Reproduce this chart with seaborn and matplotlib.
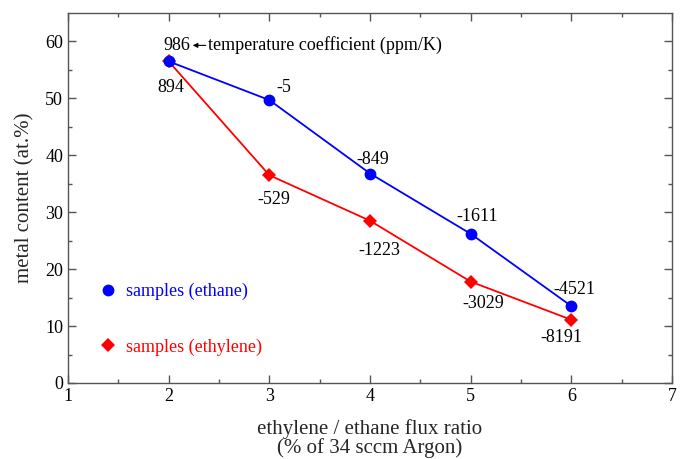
import matplotlib
matplotlib.use("Agg")
import matplotlib.pyplot as plt
from matplotlib.lines import Line2D
from matplotlib.transforms import offset_copy
import seaborn as sns
import pandas as pd

# data
flux_ratio = [2, 3, 4, 5, 6]
ethane_metal = [56.5, 49.7, 36.8, 26.2, 13.5]
ethylene_metal = [56.5, 36.5, 28.5, 17.8, 11.1]
ethane_tcr = ["986", "-5", "-849", "-1611", "-4521"]
ethylene_tcr = ["894", "-529", "-1223", "-3029", "-8191"]

# label offsets in pixels (x, y) from each point
ethane_offsets = [(8, 16), (14, 13), (3, 14), (6, 17), (3, 17)]
ethylene_offsets = [(2, -26), (4, -24), (9, -30), (13, -22), (-10, -18)]

sns.set_style("ticks")
plt.rcParams['font.family'] = ['Liberation Serif', 'DejaVu Serif']

df_ethane = pd.DataFrame({'x': flux_ratio, 'y': ethane_metal})
df_ethylene = pd.DataFrame({'x': flux_ratio, 'y': ethylene_metal})

fig = plt.figure(figsize=(6.83, 4.59), dpi=100)
ax = fig.add_axes([0.0996, 0.1656, 0.8844, 0.8061])

sns.lineplot(data=df_ethylene, x='x', y='y', color='#ff0000', marker='D',
             markersize=7, markeredgewidth=0, linewidth=1.3, ax=ax)
sns.lineplot(data=df_ethane, x='x', y='y', color='#0000ff', marker='o',
             markersize=8.5, markeredgewidth=0, linewidth=1.3, ax=ax)

for x, y, t, (dx, dy) in zip(flux_ratio, ethane_metal, ethane_tcr, ethane_offsets):
    ax.annotate(t, xy=(x, y), xytext=(dx, dy), textcoords='offset pixels',
                ha='center', va='center', fontsize=13, color='black')
for x, y, t, (dx, dy) in zip(flux_ratio, ethylene_metal, ethylene_tcr, ethylene_offsets):
    ax.annotate(t, xy=(x, y), xytext=(dx, dy), textcoords='offset pixels',
                ha='center', va='center', fontsize=13, color='black')

# arrow + caption next to the first label
head = offset_copy(ax.transData, fig=fig, x=24, y=16, units='dots')
ax.annotate('', xy=(flux_ratio[0], ethane_metal[0]), xycoords=head,
            xytext=(13, 0), textcoords='offset pixels',
            arrowprops=dict(arrowstyle='-|>', color='black', lw=0.8,
                            mutation_scale=7, shrinkA=0, shrinkB=0))
ax.annotate('temperature coefficient (ppm/K)', xy=(flux_ratio[0], ethane_metal[0]),
            xytext=(39, 16), textcoords='offset pixels', ha='left', va='center',
            fontsize=13, color='black')

handles = [Line2D([], [], color='#0000ff', marker='o', linestyle='none', markersize=8.5,
                  markeredgewidth=0, label='samples (ethane)'),
           Line2D([], [], color='#ff0000', marker='D', linestyle='none', markersize=7,
                  markeredgewidth=0, label='samples (ethylene)')]
ax.legend(handles=handles, loc='lower left', bbox_to_anchor=(0.025, 0.03), frameon=False,
          labelcolor='linecolor', fontsize=13, labelspacing=2.1, handletextpad=0.5,
          handlelength=1.0)

ax.set_xlim(1, 7)
ax.set_ylim(0, 65)
ax.set_xticks([1, 2, 3, 4, 5, 6, 7])
ax.set_xticks([1.5, 2.5, 3.5, 4.5, 5.5, 6.5], minor=True)
ax.set_yticks([0, 10, 20, 30, 40, 50, 60])
ax.set_yticks([5, 15, 25, 35, 45, 55], minor=True)
ax.tick_params(which='both', direction='in', top=True, right=True, colors='#555555',
               labelcolor='black', labelsize=13, width=1)
ax.tick_params(which='major', length=6)
ax.tick_params(which='minor', length=3)
for s in ax.spines.values():
    s.set_color('#555555')
    s.set_linewidth(1)

ax.set_xlabel('ethylene / ethane flux ratio\n(% of 34 sccm Argon)', fontsize=15,
              linespacing=0.95, labelpad=10)
ax.set_ylabel('metal content (at.%)', fontsize=15, labelpad=8)

fig.savefig('out.png', dpi=100)
